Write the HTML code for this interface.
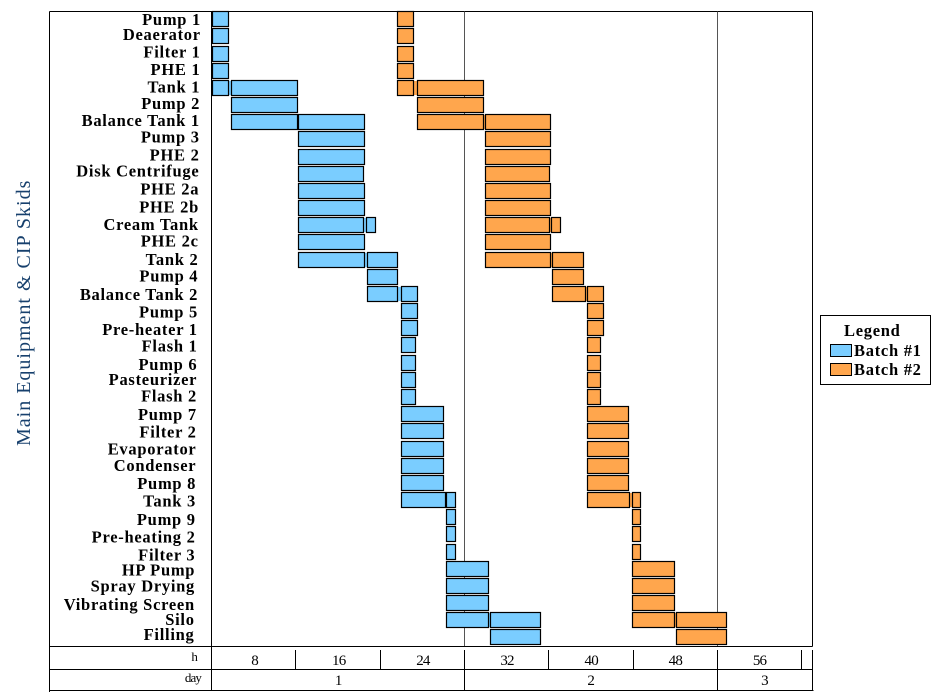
<!DOCTYPE html>
<html>
<head>
<meta charset="utf-8">
<title>Batch schedule Gantt chart</title>
<style>
html,body{margin:0;padding:0;background:#fff;width:946px;height:700px;overflow:hidden}
svg{display:block}
text{font-family:"Liberation Serif",serif;fill:#000}
.cat{font-size:16.5px;font-weight:bold;letter-spacing:.72px;text-anchor:end}
.tick{font-size:15px;text-anchor:middle;letter-spacing:-.8px}
.side{font-size:13px;text-anchor:end;letter-spacing:-.9px}
.leg{font-size:16.5px;font-weight:bold;letter-spacing:.72px}
</style>
</head>
<body>
<svg id="chart" width="946" height="700" viewBox="0 0 946 700" xmlns="http://www.w3.org/2000/svg">
  <text transform="translate(30,446) rotate(-90)" style="font-size:20px;fill:#17406d;letter-spacing:1px">Main Equipment &amp; CIP Skids</text>
  <g id="grid"></g>
  <g id="bars"></g>
  <g id="labels"></g>
  <g id="axis"></g>
  <g>
    <rect x="820.5" y="315.5" width="110" height="69" fill="#fff" stroke="#000" stroke-width="1"/>
    <text class="leg" x="844" y="336">Legend</text>
    <rect x="830.5" y="344.5" width="21" height="12" fill="#7acdff" stroke="#000" stroke-width="1"/>
    <text class="leg" x="854" y="356">Batch #1</text>
    <rect x="830.5" y="363.5" width="21" height="12" fill="#ffa64d" stroke="#000" stroke-width="1"/>
    <text class="leg" x="854" y="375">Batch #2</text>
  </g>
</svg>
<script>
const categories = ["Pump 1","Deaerator","Filter 1","PHE 1","Tank 1","Pump 2","Balance Tank 1","Pump 3","PHE 2","Disk Centrifuge","PHE 2a","PHE 2b","Cream Tank","PHE 2c","Tank 2","Pump 4","Balance Tank 2","Pump 5","Pre-heater 1","Flash 1","Pump 6","Pasteurizer","Flash 2","Pump 7","Filter 2","Evaporator","Condenser","Pump 8","Tank 3","Pump 9","Pre-heating 2","Filter 3","HP Pump","Spray Drying","Vibrating Screen","Silo","Filling"];
const batch1Hours = [
 [[0,1.57]],[[0,1.57]],[[0,1.57]],[[0,1.57]],
 [[0,1.57],[1.81,8.13]],[[1.81,8.13]],[[1.81,8.13],[8.17,14.5]],
 [[8.17,14.5]],[[8.17,14.5]],[[8.17,14.4]],[[8.17,14.5]],[[8.17,14.5]],
 [[8.17,14.4],[14.64,15.54]],[[8.17,14.5]],[[8.17,14.5],[14.73,17.68]],
 [[14.73,17.68]],[[14.73,17.68],[17.97,19.53]],[[17.97,19.53]],[[17.97,19.53]],
 [[17.97,19.34]],[[17.97,19.34]],[[17.97,19.34]],[[17.97,19.34]],
 [[17.97,22.0]],[[17.97,22.0]],[[17.97,22.0]],[[17.97,22.0]],[[17.97,22.0]],
 [[17.97,22.2],[22.29,23.15]],[[22.29,23.15]],[[22.29,23.15]],[[22.29,23.15]],
 [[22.29,26.28]],[[22.29,26.28]],[[22.29,26.28]],[[22.29,26.28],[26.47,31.23]],[[26.47,31.23]]
];
const batch2Hours = [
 [[17.63,19.15]],[[17.63,19.15]],[[17.63,19.15]],[[17.63,19.15]],
 [[17.63,19.15],[19.53,25.81]],[[19.53,25.81]],[[19.53,25.81],[25.95,32.18]],
 [[25.95,32.18]],[[25.95,32.18]],[[25.95,32.08]],[[25.95,32.18]],[[25.95,32.18]],
 [[25.95,32.08],[32.22,33.13]],[[25.95,32.18]],[[25.95,32.18],[32.32,35.31]],
 [[32.32,35.31]],[[32.32,35.5],[35.6,37.21]],[[35.6,37.21]],[[35.6,37.21]],
 [[35.6,36.93]],[[35.6,36.93]],[[35.6,36.93]],[[35.6,36.93]],
 [[35.6,39.59]],[[35.6,39.59]],[[35.6,39.59]],[[35.6,39.59]],[[35.6,39.59]],
 [[35.6,39.73],[39.88,40.73]],[[39.88,40.73]],[[39.88,40.73]],[[39.88,40.73]],
 [[39.97,43.96]],[[39.97,43.96]],[[39.97,43.96]],[[39.97,43.96],[44.11,48.91]],[[44.11,48.91]]
];
const hourLabels = ["8","16","24","32","40","48","56"];
const hourValues = [8,16,24,32,40,48,56];
const dayLabels = ["1","2","3"];
const dayEnds = [24,48,57.03];

const NS = "http://www.w3.org/2000/svg";
function xScale(h){ return 212 + h * 10.52; }
function tickX(h){ return Math.floor(211.5 + h * 10.54) + 0.5; }
function rowTop(i){ return Math.round(11.25 + i * 17.17); }
// hand-placed text baselines of the row labels (layout only)
const labelBaselineLayout = [25,40,57.3,75,92.3,109,126,142.7,160.7,176.7,194.3,212.7,230,246.7,265,281.7,300,317.7,335,351.7,370,385,401.7,420,437.7,454.3,471,489,506.7,525,542.7,560.7,575.7,591.7,610,625,640];
function labelY(i){ return labelBaselineLayout[i]; }
function labelRight(i){ return 201 - i * 6.5 / 36; }
function make(parent, tag, attrs, txt){
  const el = document.createElementNS(NS, tag);
  for (const k in attrs) el.setAttribute(k, attrs[k]);
  if (txt !== undefined) el.textContent = txt;
  document.getElementById(parent).appendChild(el);
  return el;
}
function slug(s){ return s.toLowerCase().replace(/[^a-z0-9]+/g,'-'); }
function line(parent, x1, y1, x2, y2, color, name){
  const el = make(parent, 'line', {x1:x1, y1:y1, x2:x2, y2:y2, stroke:color, 'stroke-width':1});
  
  
  return el;
}

// frame and day separators
const frameLeft = 49.5, frameRight = 812.5, top0 = 11.5, axisTop = 646.5, axisMid = 669.5, axisBot = 690.5;
line('grid', frameLeft, top0, frameRight, top0, '#000', 'plot-top-border');
line('grid', frameLeft, top0, frameLeft, 692, '#000', 'left-border');
line('grid', frameRight, top0, frameRight, axisTop, '#000', 'right-border');
line('grid', 211.5, top0, 211.5, axisBot, '#000', 'label-column-divider');
dayEnds.slice(0, 2).forEach(function(d, i){
  const x = tickX(d);
  const gl = line('grid', x, top0, x, axisTop, '#555', 'day-gridline');
  gl.setAttribute('data-day', dayLabels[i]);
});

// bars
function drawSeries(series, color, name){
  series.forEach(function(segs, i){
    if (segs.length > 1) {
      const back = make('bars', 'rect', {
        x: Math.round(xScale(segs[0][1])) - 1, y: rowTop(i) + 1,
        width: Math.round(xScale(segs[1][0])) - Math.round(xScale(segs[0][1])) + 3, height: 14,
        fill: color
      });
      
      
    }
    segs.forEach(function(seg){
      const x0 = Math.round(xScale(seg[0])), x1 = Math.floor(xScale(seg[1]));
      const r = make('bars', 'rect', {
        x: x0 + 0.5, y: rowTop(i) + 0.5,
        width: Math.max(1, x1 - x0), height: 15,
        fill: color, stroke: '#000', 'stroke-width': 1.2
      });
      
      
    });
  });
}
drawSeries(batch1Hours, '#7acdff', 'batch-1-bar');
drawSeries(batch2Hours, '#ffa64d', 'batch-2-bar');

// category labels
categories.forEach(function(c, i){
  const t = make('labels', 'text', {'class':'cat', x: labelRight(i), y: labelY(i)}, c);
  
  
});

// axis rows
line('axis', frameLeft, axisTop, frameRight, axisTop, '#000', 'axis-top-line');
line('axis', frameLeft, axisMid, frameRight, axisMid, '#000', 'axis-mid-line');
line('axis', frameLeft, axisBot, frameRight + 1, axisBot, '#000', 'axis-bottom-line');
line('axis', frameRight, 650, frameRight, axisBot, '#000', 'axis-right-border');
const hT = make('axis', 'text', {'class':'side', x: 197, y: 661}, 'h');


const dT = make('axis', 'text', {'class':'side', x: 201, y: 682}, 'day');


hourValues.forEach(function(h, i){
  const x = tickX(h);
  const tk = line('axis', x, 650, x, axisMid, '#000', 'hour-tick');
  tk.setAttribute('data-hour', h);
  const t = make('axis', 'text', {'class':'tick', x: xScale(h - 4) + 0.5, y: 665}, hourLabels[i]);
  
  
});
dayEnds.forEach(function(d, i){
  const start = i === 0 ? 0 : dayEnds[i - 1];
  if (i < 2) {
    const x = tickX(d);
    const dl = line('axis', x, axisMid, x, axisBot, '#000', 'day-tick');
    dl.setAttribute('data-day', dayLabels[i]);
  }
  const t = make('axis', 'text', {'class':'tick', x: xScale((start + d) / 2), y: 685}, dayLabels[i]);
  
  
});
</script>
</body>
</html>
